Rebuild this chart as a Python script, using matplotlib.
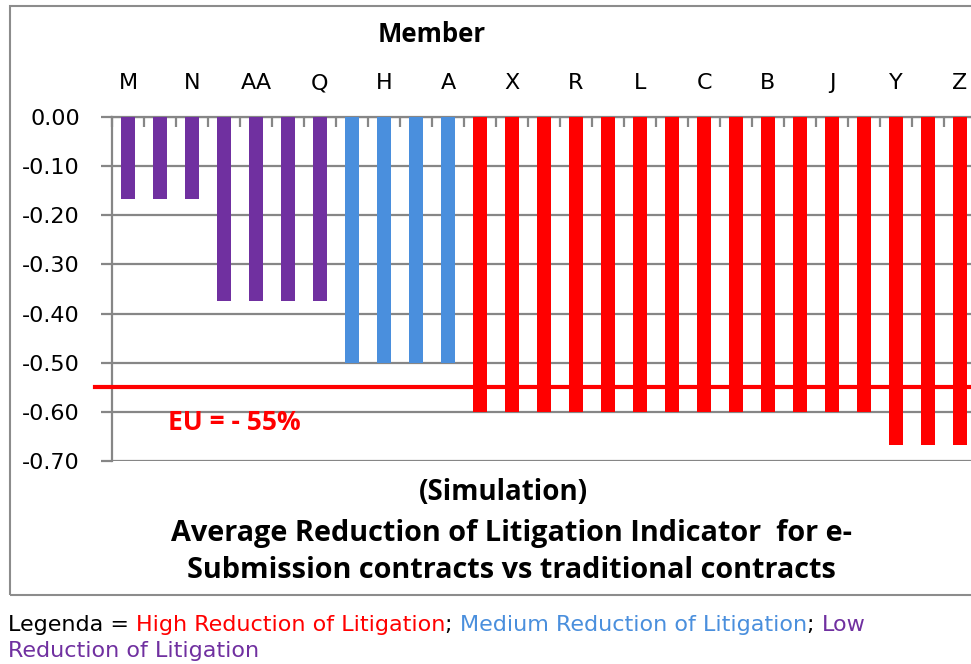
import matplotlib.pyplot as plt
from matplotlib.patches import Rectangle

# one bar per member, only every other name is printed on the chart
members = ['M', '', 'N', '', 'AA', '', 'Q', '', 'H', '', 'A', '', 'X', '', 'R',
           '', 'L', '', 'C', '', 'B', '', 'J', '', 'Y', '', 'Z']
reduction = [-0.167, -0.167, -0.167, -0.375, -0.375, -0.375, -0.375,
             -0.50, -0.50, -0.50, -0.50,
             -0.60, -0.60, -0.60, -0.60, -0.60, -0.60, -0.60, -0.60, -0.60,
             -0.60, -0.60, -0.60, -0.60, -0.667, -0.667, -0.667]
level = ['low'] * 7 + ['medium'] * 4 + ['high'] * 16
eu_average = -0.55
ytick_vals = [0.0, -0.1, -0.2, -0.3, -0.4, -0.5, -0.6, -0.7]
ytick_labels = ['0.00', '-0.10', '-0.20', '-0.30', '-0.40', '-0.50', '-0.60', '-0.70']

colors = {'high': '#FF0000', 'medium': '#4A8FDD', 'low': '#7030A0'}
grid_gray = '#868686'
title_font = 'Open Sans'

fig = plt.figure(figsize=(9.71, 6.64), dpi=100)

# outer chart frame
fig.patches.append(Rectangle((10 / 971, 1 - 595 / 664), 1.0, 589 / 664,
                             transform=fig.transFigure, fill=False,
                             edgecolor='#8C8C8C', lw=1.5, zorder=0))

ax = fig.add_axes([112 / 971, 1 - 461 / 664, 864 / 971, 344 / 664])
x = range(len(members))
ax.bar(x, reduction, width=0.42, color=[colors[l] for l in level], zorder=3)
ax.set_xlim(-0.5, len(members) - 0.5)
ax.set_ylim(-0.70, 0.0)

ax.set_yticks(ytick_vals)
ax.set_yticklabels(ytick_labels, fontsize=16, family='DejaVu Sans')
ax.yaxis.grid(True, color=grid_gray, lw=1.6, zorder=1)
ax.tick_params(axis='y', length=8, color=grid_gray, width=1.6, pad=15)

ax.xaxis.tick_top()
ax.set_xticks([i + 0.5 for i in range(-1, len(members))], minor=True)
ax.set_xticks(list(x))
ax.set_xticklabels(members, fontsize=16, family='DejaVu Sans')
ax.tick_params(axis='x', which='major', length=0, pad=17)
ax.tick_params(axis='x', which='minor', length=7, direction='in',
               color=grid_gray, width=1.6)

for s in ['right', 'bottom']:
    ax.spines[s].set_visible(False)
for s in ['left', 'top']:
    ax.spines[s].set_color(grid_gray)
    ax.spines[s].set_linewidth(1.6)

# EU average line, starts a bit left of the axis
ax.axhline(eu_average, xmin=-0.02, xmax=1, color='#FF0000', lw=3,
           clip_on=False, zorder=4)
ax.text(1.25, -0.621, 'EU = - 55%', color='#FF0000', fontsize=19,
        fontweight='bold', family=title_font, ha='left', va='center')

fig.text(432 / 971, 1 - 35 / 664, 'Member', fontsize=18.5, fontweight='bold',
         family=title_font, ha='center', va='center')
fig.text(503 / 971, 1 - 493 / 664, '(Simulation)', fontsize=20,
         fontweight='bold', family=title_font, ha='center', va='center')
fig.text(511 / 971, 1 - 534 / 664,
         'Average Reduction of Litigation Indicator  for e-', fontsize=20.8,
         fontweight='bold', family=title_font, ha='center', va='center')
fig.text(511 / 971, 1 - 571 / 664,
         'Submission contracts vs traditional contracts', fontsize=20.8,
         fontweight='bold', family=title_font, ha='center', va='center')

# coloured legend sentence below the frame
pieces = [('Legenda = ', 'black'), ('High Reduction of Litigation', colors['high']),
          ('; ', 'black'), ('Medium Reduction of Litigation', colors['medium']),
          ('; ', 'black'), ('Low', colors['low'])]
fig.canvas.draw()
renderer = fig.canvas.get_renderer()
xpos = 8 / 971
for txt, col in pieces:
    t = fig.text(xpos, 1 - 625 / 664, txt, color=col, fontsize=16,
                 family='DejaVu Sans', ha='left', va='center')
    bb = t.get_window_extent(renderer)
    xpos += bb.width / fig.bbox.width
fig.text(8 / 971, 1 - 651 / 664, 'Reduction of Litigation', color=colors['low'],
         fontsize=16, family='DejaVu Sans', ha='left', va='center')

fig.savefig('out.png', dpi=100)
